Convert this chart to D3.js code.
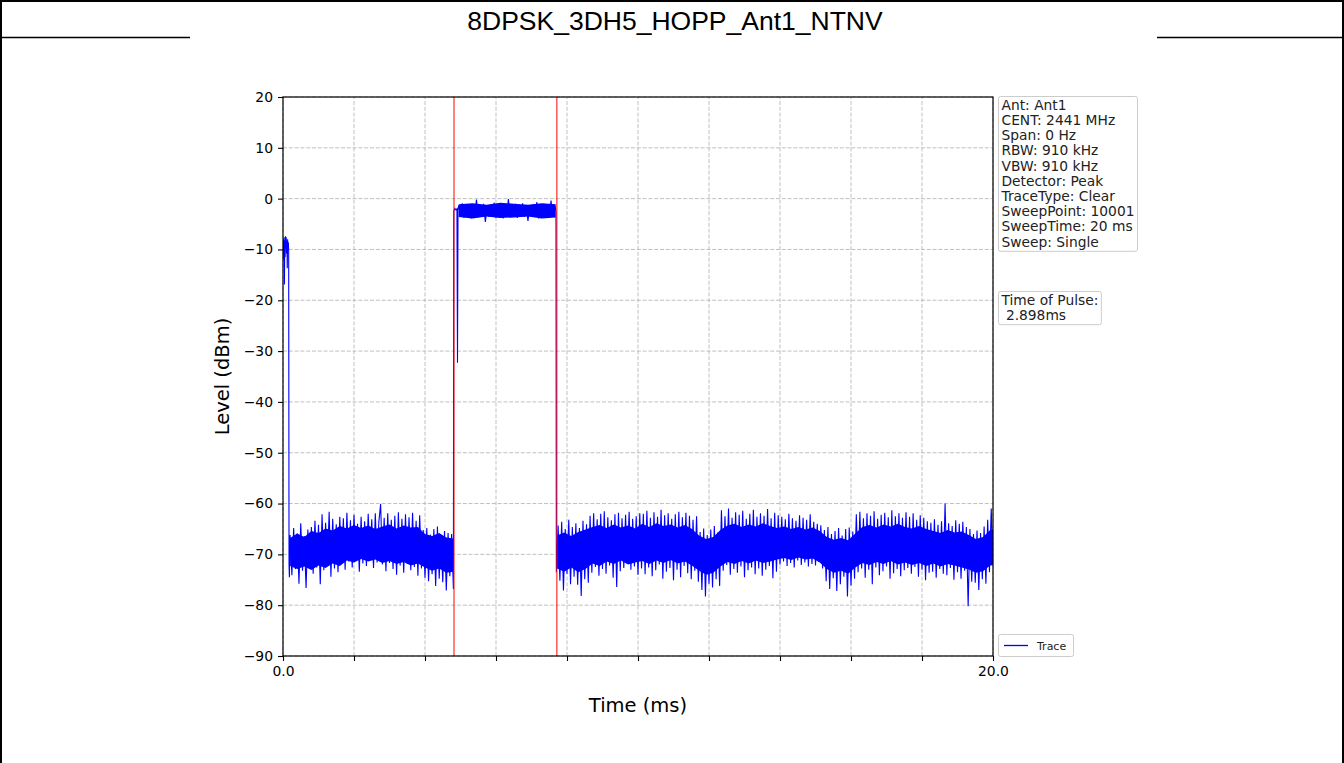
<!DOCTYPE html>
<html><head><meta charset="utf-8">
<script src="https://cdn.jsdelivr.net/npm/d3@7"></script>
<style>body{margin:0;background:#fff}svg{display:block}</style>
</head><body><svg id="c" width="1344" height="763"></svg>
<script>
// ---------------- data ----------------
const chartTitle = "8DPSK_3DH5_HOPP_Ant1_NTNV";
const yTicks = [20, 10, 0, -10, -20, -30, -40, -50, -60, -70, -80, -90];
const xTicks = [0, 2, 4, 6, 8, 10, 12, 14, 16, 18, 20];
const xTickLabels = ["0.0", "", "", "", "", "", "", "", "", "", "20.0"];
const xLabel = "Time (ms)";
const yLabel = "Level (dBm)";
const infoLines = ["Ant: Ant1", "CENT: 2441 MHz", "Span: 0 Hz", "RBW: 910 kHz", "VBW: 910 kHz",
  "Detector: Peak", "TraceType: Clear", "SweepPoint: 10001", "SweepTime: 20 ms", "Sweep: Single"];
const pulseInfoLines = ["Time of Pulse:", " 2.898ms"];
const legendLabel = "Trace";
const markerTimes = [4.817, 7.715];

const burstTime = [0.00, 0.01, 0.02, 0.03, 0.04, 0.05, 0.06, 0.07, 0.08, 0.09, 0.10, 0.11, 0.12, 0.13, 0.14, 0.15, 0.16, 0.17, 0.18];
const burstLevel = [-10.5, -8.0, -12.0, -7.6, -16.9, -8.2, -11.5, -7.4, -9.8, -7.6, -10.8, -8.3, -13.7, -8.0, -9.5, -8.6, -10.2, -72.0, -74.5];

const sampleStep = 0.05;
const noise1Start = 0.20;
const noise1Level = [
  -66.2, -74.1, -64.8, -72.9, -65.9, -75.8, -63.9, -73.2, -66.4, -76.6, -65.1, -72.4, -64.6,
  -73.8, -63.4, -72.6, -64.2, -75.9, -62.1, -73.1, -63.8, -72.2, -61.6, -74.4, -63.0, -72.8, -64.1, -73.5, -62.6,
  -71.9, -62.9, -73.0, -61.8, -71.4, -63.3, -72.6, -62.2, -71.1, -64.0, -73.4, -62.6, -71.8, -63.5, -72.3, -62.0, -70.9, -63.1, -72.7, -61.9, -71.6, -63.6,
  -60.1, -72.0, -62.8, -73.3, -61.9, -71.7, -63.2, -72.9, -62.4, -74.0, -61.7, -72.2, -63.0, -73.6, -62.1, -71.9, -62.7, -73.1, -61.8, -72.5, -63.4, -74.2, -62.3, -72.8,
  -65.2, -74.6, -64.8, -75.3, -66.1, -73.9, -65.0, -76.2, -64.5, -74.8, -66.3, -75.5, -65.4, -77.1, -65.8, -74.3, -66.0, -76.8];

const riseTime = [4.81, 4.84, 4.87, 4.90, 4.915, 4.93];
const riseLevel = [-2.4, -1.9, -2.2, -2.0, -32.3, -2.1];

const pulseStart = 4.95;
const pulseLevel = [
  -1.3, -3.5, -0.9, -3.8, -1.6, -3.2, -1.1, -3.9, -1.4, -3.4,
  -0.2, -3.7, -1.5, -3.3, -1.0, -4.6, -1.7, -3.6, -1.2, -3.0,
  -0.8, -3.8, -1.4, -3.5, -1.1, -3.9, -1.6, -3.3, -0.1, -3.7,
  -1.3, -3.4, -1.0, -3.8, -1.5, -3.2, -0.9, -3.6, -1.2, -4.4,
  -1.7, -3.5, -1.1, -3.3, -0.7, -3.9, -1.4, -3.6, -1.0, -3.4,
  -1.3, -3.8, -0.4, -3.5, -1.2];

const fallTime = [7.69, 7.70];
const fallLevel = [-2.5, -73.5];

const noise2Start = 7.75;
const noise2Level = [
  -64.3, -75.2, -63.6, -77.1, -65.0, -73.8, -63.2, -75.9, -64.6, -74.4, -63.9, -76.0, -64.8, -78.2, -63.4, -74.9, -64.1, -75.6,
  -62.4, -73.6, -61.9, -72.5, -63.1, -74.2, -62.0, -72.9, -61.5, -73.8, -62.7, -72.2, -63.3, -74.6, -62.1, -76.4, -61.8, -73.3, -62.9, -72.7, -62.2, -71.9, -61.6, -73.0, -63.0, -72.4, -62.5, -74.0, -61.9, -72.8,
  -62.0, -73.9, -61.4, -72.6, -62.8, -74.3, -61.7, -73.1, -62.6, -72.0, -61.2, -74.8, -62.3, -73.4, -61.9, -72.7, -63.0, -75.1, -62.1, -73.0, -61.6, -74.5, -62.7, -72.3, -61.8, -73.7, -62.4, -74.9, -63.2, -73.2, -62.5,
  -75.4, -65.6, -77.0, -64.9, -78.3, -66.2, -75.8, -65.1, -76.5, -64.4, -74.9, -65.7, -76.2,
  -61.3, -73.2, -62.5, -72.1, -61.0, -74.0, -62.8, -72.9, -61.7, -73.6, -62.2, -72.4, -61.4, -74.5, -63.0, -73.1, -62.0, -72.6, -61.2, -73.9, -62.6, -72.8, -61.9, -74.2, -62.4, -73.0, -61.1, -72.3, -62.9, -74.7, -61.8, -73.4, -62.3,
  -72.0, -62.6, -71.4, -63.1, -72.3, -62.0, -71.7, -62.9, -72.6, -63.4, -71.2, -62.3, -72.1, -62.8, -71.6, -63.2, -72.4, -62.1, -71.9, -63.6, -72.2, -64.0, -71.5, -64.3, -72.8,
  -65.2, -75.3, -64.6, -76.8, -66.0, -74.7, -65.4, -77.2, -64.8, -75.9, -66.3, -74.4, -65.0, -78.3, -64.7, -76.1, -65.5, -74.8,
  -62.1, -73.5, -61.6, -72.8, -62.9, -74.6, -61.9, -73.0, -62.4, -75.9, -61.5, -72.6, -63.0, -74.1, -62.2, -73.3, -61.8, -72.4, -62.7, -74.8, -61.3, -73.7, -62.5, -72.9, -61.9, -74.3, -62.8, -73.1, -61.7, -72.7,
  -62.6, -73.8, -61.9, -72.5, -63.2, -74.4, -62.3, -73.0, -62.8, -75.1, -63.5, -73.6,
  -63.8, -73.4, -63.1, -74.6, -64.2, -72.9, -63.5, -73.8, -60.0, -74.1, -63.9, -72.7, -64.4, -75.0, -63.3, -73.5, -64.0, -74.8, -63.6, -73.2, -64.6, -80.2, -65.0, -75.4,
  -66.0, -75.6, -65.3, -77.0, -65.8, -74.9, -64.5, -75.8, -63.2, -73.5, -61.0, -72.0];

// dense core of the trace (where the 10001 sweep points overlap into a solid band)
const coreStep = 0.2;
const core1Start = 0.2;
const core1Top = [-66.8, -65.9, -66.6, -65.4, -65.8, -64.9, -65.3, -64.4, -64.9, -64.2, -64.8, -64.3,
  -65.0, -64.5, -64.1, -64.9, -64.3, -64.7, -64.6, -66.0, -66.4, -65.8, -66.7, -66.9];
const core1Bottom = [-72.3, -72.9, -72.4, -73.1, -72.2, -72.7, -71.8, -72.3, -71.2, -71.6, -70.9, -71.4,
  -71.0, -71.7, -71.3, -71.9, -71.5, -72.2, -71.8, -72.6, -73.2, -72.8, -73.6, -73.4];
const corePulseStart = 4.95;
const corePulseStep = 0.39;
const corePulseTop = [-1.1, -0.9, -1.2, -0.8, -1.0, -1.2, -0.9, -1.1];
const corePulseBottom = [-3.6, -3.9, -3.5, -3.8, -3.7, -3.5, -3.9, -3.7];
const core2Start = 7.72;
const core2Top = [-66.3, -65.7, -66.4, -65.6, -65.1, -64.6, -64.2, -64.8, -64.1, -64.7, -64.3, -64.9, -64.0,
  -64.6, -63.9, -64.4, -64.1, -64.7, -64.2, -65.0, -66.3, -67.0, -66.6, -65.2, -64.3, -64.0, -64.6, -64.1,
  -64.5, -63.9, -64.4, -64.8, -64.5, -65.0, -64.6, -65.1, -64.7, -65.4, -66.6, -67.1, -66.8, -67.2, -65.9,
  -64.6, -64.2, -64.7, -64.1, -64.5, -64.0, -64.6, -64.9, -64.4, -65.0, -65.4, -65.8, -65.2, -65.7, -65.5,
  -66.2, -67.0, -66.6, -65.2, -64.8];
const core2Bottom = [-72.8, -73.4, -72.6, -73.5, -72.9, -71.8, -72.3, -71.4, -71.9, -71.2, -72.0, -71.6, -71.3,
  -71.9, -71.2, -71.7, -71.1, -71.8, -71.4, -72.2, -73.2, -74.0, -73.6, -72.4, -71.5, -71.9, -71.3, -71.8,
  -71.2, -71.7, -71.4, -71.0, -70.7, -71.1, -70.6, -71.0, -70.8, -71.6, -72.9, -73.6, -73.2, -73.8, -72.6,
  -71.7, -72.1, -71.5, -71.9, -71.3, -72.0, -71.6, -72.1, -71.7, -72.3, -71.8, -72.4, -71.9, -72.2, -72.6,
  -73.0, -73.6, -73.3, -72.2, -72.0];

// ---------------- build trace ----------------
const trace = [];
burstTime.forEach((t, i) => trace.push([t, burstLevel[i]]));
noise1Level.forEach((v, i) => trace.push([noise1Start + i * sampleStep, v]));
riseTime.forEach((t, i) => trace.push([t, riseLevel[i]]));
pulseLevel.forEach((v, i) => trace.push([pulseStart + i * sampleStep, v]));
fallTime.forEach((t, i) => trace.push([t, fallLevel[i]]));
noise2Level.forEach((v, i) => trace.push([noise2Start + i * sampleStep, v]));

const band = (start, step, top, bottom) => top.map((v, i) => [start + i * step, v, bottom[i]]);
const cores = [
  band(core1Start, coreStep, core1Top, core1Bottom),
  band(corePulseStart, corePulseStep, corePulseTop, corePulseBottom),
  band(core2Start, coreStep, core2Top, core2Bottom)
];

// ---------------- drawing ----------------
const svg = d3.select("#c");
const W = 1344, H = 763;
const mplFont = "'DejaVu Sans', sans-serif";
const blue = "#0000ff";

svg.append("rect").attr("x", 0).attr("y", 0).attr("width", W).attr("height", H).attr("fill", "#fff");
svg.append("text").attr("x", 675).attr("y", 30).attr("text-anchor", "middle")
  .attr("font-family", "'Liberation Sans', Arial, sans-serif").attr("font-size", 26.5)
  .text(chartTitle);
const frame = svg.append("g").attr("stroke", "#000").attr("stroke-width", 2);
frame.append("line").attr("x1", 0).attr("x2", W).attr("y1", 1).attr("y2", 1);
frame.append("line").attr("x1", 1).attr("x2", 1).attr("y1", 0).attr("y2", H);
frame.append("line").attr("x1", W - 1).attr("x2", W - 1).attr("y1", 0).attr("y2", H);
frame.append("line").attr("x1", 0).attr("x2", W).attr("y1", 37.5).attr("y2", 37.5).attr("stroke-width", 1.5);
svg.append("rect").attr("x", 190).attr("y", 36).attr("width", 967).attr("height", H - 36).attr("fill", "#fff");

const x = d3.scaleLinear().domain([0, 20]).range([283, 993]);
const y = d3.scaleLinear().domain([-90, 20]).range([656, 97]);

// grid
const grid = svg.append("g").attr("stroke", "#b0b0b0").attr("stroke-width", 0.8).attr("stroke-dasharray", "4,1.8");
grid.selectAll("line.gx").data(xTicks).join("line")
  .attr("x1", d => x(d)).attr("x2", d => x(d)).attr("y1", y(-90)).attr("y2", y(20));
grid.selectAll("line.gy").data(yTicks).join("line")
  .attr("x1", x(0)).attr("x2", x(20)).attr("y1", d => y(d)).attr("y2", d => y(d));

svg.append("clipPath").attr("id", "pc").append("rect")
  .attr("x", x(0)).attr("y", y(20)).attr("width", x(20) - x(0)).attr("height", y(-90) - y(20));

const plot = svg.append("g").attr("clip-path", "url(#pc)");
const area = d3.area().x(d => x(d[0])).y0(d => y(d[2])).y1(d => y(d[1]));
plot.selectAll("path.core").data(cores).join("path").attr("class", "core")
  .attr("fill", blue).attr("d", area);
const line = d3.line().x(d => x(d[0])).y(d => y(d[1]));
plot.append("path").datum(trace)
  .attr("fill", "none").attr("stroke", blue).attr("stroke-width", 1.1)
  .attr("d", line);

// markers
svg.selectAll("line.mk").data(markerTimes).join("line")
  .attr("x1", d => x(d)).attr("x2", d => x(d)).attr("y1", y(20)).attr("y2", y(-90))
  .attr("stroke", "#ff0000").attr("stroke-width", 1);

// axes
const xAxis = d3.axisBottom(x).tickValues(xTicks).tickFormat((d, i) => xTickLabels[i]).tickSize(5).tickPadding(5);
const yAxis = d3.axisLeft(y).tickValues(yTicks).tickFormat(d => d < 0 ? "\u2212" + Math.abs(d) : String(d)).tickSize(5).tickPadding(5);
const gx = svg.append("g").attr("transform", `translate(0,${y(-90)})`).call(xAxis);
const gy = svg.append("g").attr("transform", `translate(${x(0)},0)`).call(yAxis);
[gx, gy].forEach(g => {
  g.select(".domain").remove();
  g.selectAll("line").attr("stroke", "#000").attr("stroke-width", 1.1);
  g.selectAll("text").attr("font-family", mplFont).attr("font-size", 13.9).attr("fill", "#000");
});
svg.append("rect").attr("x", x(0)).attr("y", y(20)).attr("width", x(20) - x(0)).attr("height", y(-90) - y(20))
  .attr("fill", "none").attr("stroke", "#000").attr("stroke-width", 1.2);

// axis labels
svg.append("text").attr("x", x(10)).attr("y", 711.5).attr("text-anchor", "middle")
  .attr("font-family", mplFont).attr("font-size", 19.5).text(xLabel);
svg.append("text").attr("transform", `translate(229,${(y(20) + y(-90)) / 2}) rotate(-90)`).attr("text-anchor", "middle")
  .attr("font-family", mplFont).attr("font-size", 19.5).text(yLabel);

// info boxes
function textBox(lines, bx, by, fs, lh, pad) {
  const g = svg.append("g");
  const rect = g.append("rect").attr("x", bx).attr("y", by).attr("rx", 2).attr("ry", 2)
    .attr("fill", "#fff").attr("stroke", "#cccccc").attr("stroke-width", 1);
  const t = g.selectAll("text").data(lines).join("text")
    .attr("x", bx + pad).attr("y", (d, i) => by + pad + fs * 0.74 + i * lh)
    .attr("font-family", mplFont).attr("font-size", fs).attr("fill", "#222")
    .style("white-space", "pre").text(d => d);
  let w = 0; t.each(function () { w = Math.max(w, this.getComputedTextLength()); });
  rect.attr("width", w + pad * 2).attr("height", (lines.length - 1) * lh + fs + pad * 1.4);
}
textBox(infoLines, 998.5, 96.5, 13.8, 15.2, 3);
textBox(pulseInfoLines, 998.5, 291.5, 13.8, 15.2, 3);

// legend
const lg = svg.append("g");
lg.append("rect").attr("x", 998.5).attr("y", 634.5).attr("width", 75).attr("height", 22).attr("rx", 2)
  .attr("fill", "#fff").attr("stroke", "#cccccc");
lg.append("line").attr("x1", 1004).attr("x2", 1028).attr("y1", 645.5).attr("y2", 645.5)
  .attr("stroke", blue).attr("stroke-width", 1.3);
lg.append("text").attr("x", 1037).attr("y", 649.5).attr("font-family", mplFont).attr("font-size", 11)
  .attr("fill", "#222").text(legendLabel);
</script></body></html>
